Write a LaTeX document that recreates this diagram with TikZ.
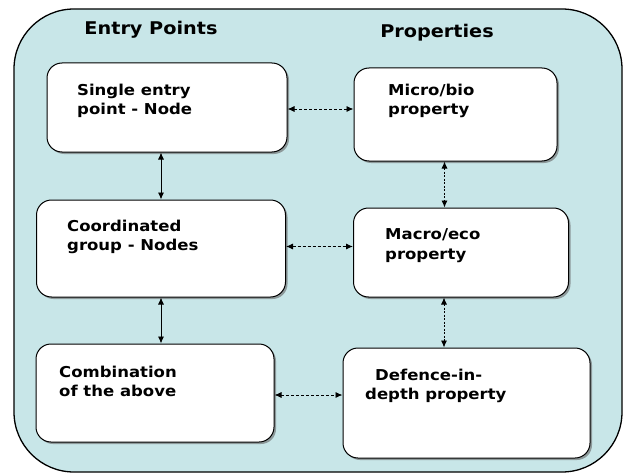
\documentclass[tikz,border=0pt]{standalone}
\usepackage{fontspec}
\setmainfont{DejaVu Sans}
\newfontfamily\cardfont[FakeStretch=1.1]{DejaVu Sans}
\usetikzlibrary{arrows.meta,shadows}
\definecolor{panel}{RGB}{200,230,232}
\tikzset{
  card/.style={draw=black, line width=1pt, fill=white, rounded corners=15pt,
    drop shadow={shadow xshift=2pt, shadow yshift=-2pt, fill=black!60, opacity=0.6}},
  cardtext/.style={anchor=north west, inner sep=0pt, align=left,
    font=\cardfont\bfseries\fontsize{15}{19.5}\selectfont},
  heading/.style={inner sep=0pt, font=\cardfont\bfseries\fontsize{17.5}{20}\selectfont},
  link/.style={line width=0.9pt, {Latex[length=7pt,width=6pt]}-{Latex[length=7pt,width=6pt]}},
  dashlink/.style={link, dash pattern=on 3pt off 2pt},
  dotlink/.style={link, dash pattern=on 2pt off 1.5pt},
}
\begin{document}
\begin{tikzpicture}[x=1pt,y=-1pt]
  \useasboundingbox (0,0) rectangle (626,476);
  % background panel
  \draw[line width=1.3pt, fill=panel, rounded corners=60pt] (14,9) rectangle (622,472);

  % column headings
  \node[heading] (hEntry) at (151,30) {Entry Points};
  \node[heading] (hProp) at (437,33) {Properties};

  % boxes
  \node[card, minimum width=240pt, minimum height=89pt] (single) at (167,107.5) {};
  \node[card, minimum width=203pt, minimum height=93pt] (micro) at (455.5,114.5) {};
  \node[card, minimum width=249pt, minimum height=97pt] (coord) at (161,248.5) {};
  \node[card, minimum width=215pt, minimum height=89pt] (macro) at (461,252.5) {};
  \node[card, minimum width=238pt, minimum height=98pt] (combo) at (155,393) {};
  \node[card, minimum width=247pt, minimum height=110pt] (defence) at (466.5,403) {};

  % box texts
  \node[cardtext] (tSingle) at (77,83.5) {Single entry\\point - Node};
  \node[cardtext] (tMicro) at (388,83.5) {Micro/bio\\property};
  \node[cardtext] (tCoord) at (67,219.5) {Coordinated\\group - Nodes};
  \node[cardtext] (tMacro) at (385,228.5) {Macro/eco\\property};
  \node[cardtext] (tCombo) at (59,365.5) {Combination\\of the above};
  \node[cardtext] (tDefence) at (365,368.5) {\hspace*{10pt}Defence-in-\\depth property};

  % connectors
  \draw[link] ([xshift=-6pt]single.south) -- ([xshift=-6pt]single.south |- coord.north);
  \draw[link] (coord.south) -- (coord.south |- combo.north);
  \draw[dashlink] ([yshift=-1.5pt]single.east) -- ([yshift=-1.5pt]single.east -| micro.west);
  \draw[dashlink] ([yshift=2pt]coord.east) -- ([yshift=2pt]coord.east -| macro.west);
  \draw[dashlink] ([yshift=-2pt]combo.east) -- ([yshift=-2pt]combo.east -| defence.west);
  \draw[dotlink] ([xshift=-11pt]micro.south) -- ([xshift=-11pt]micro.south |- macro.north);
  \draw[dotlink] ([xshift=-17pt]macro.south) -- ([xshift=-17pt]macro.south |- defence.north);
\end{tikzpicture}
\end{document}
